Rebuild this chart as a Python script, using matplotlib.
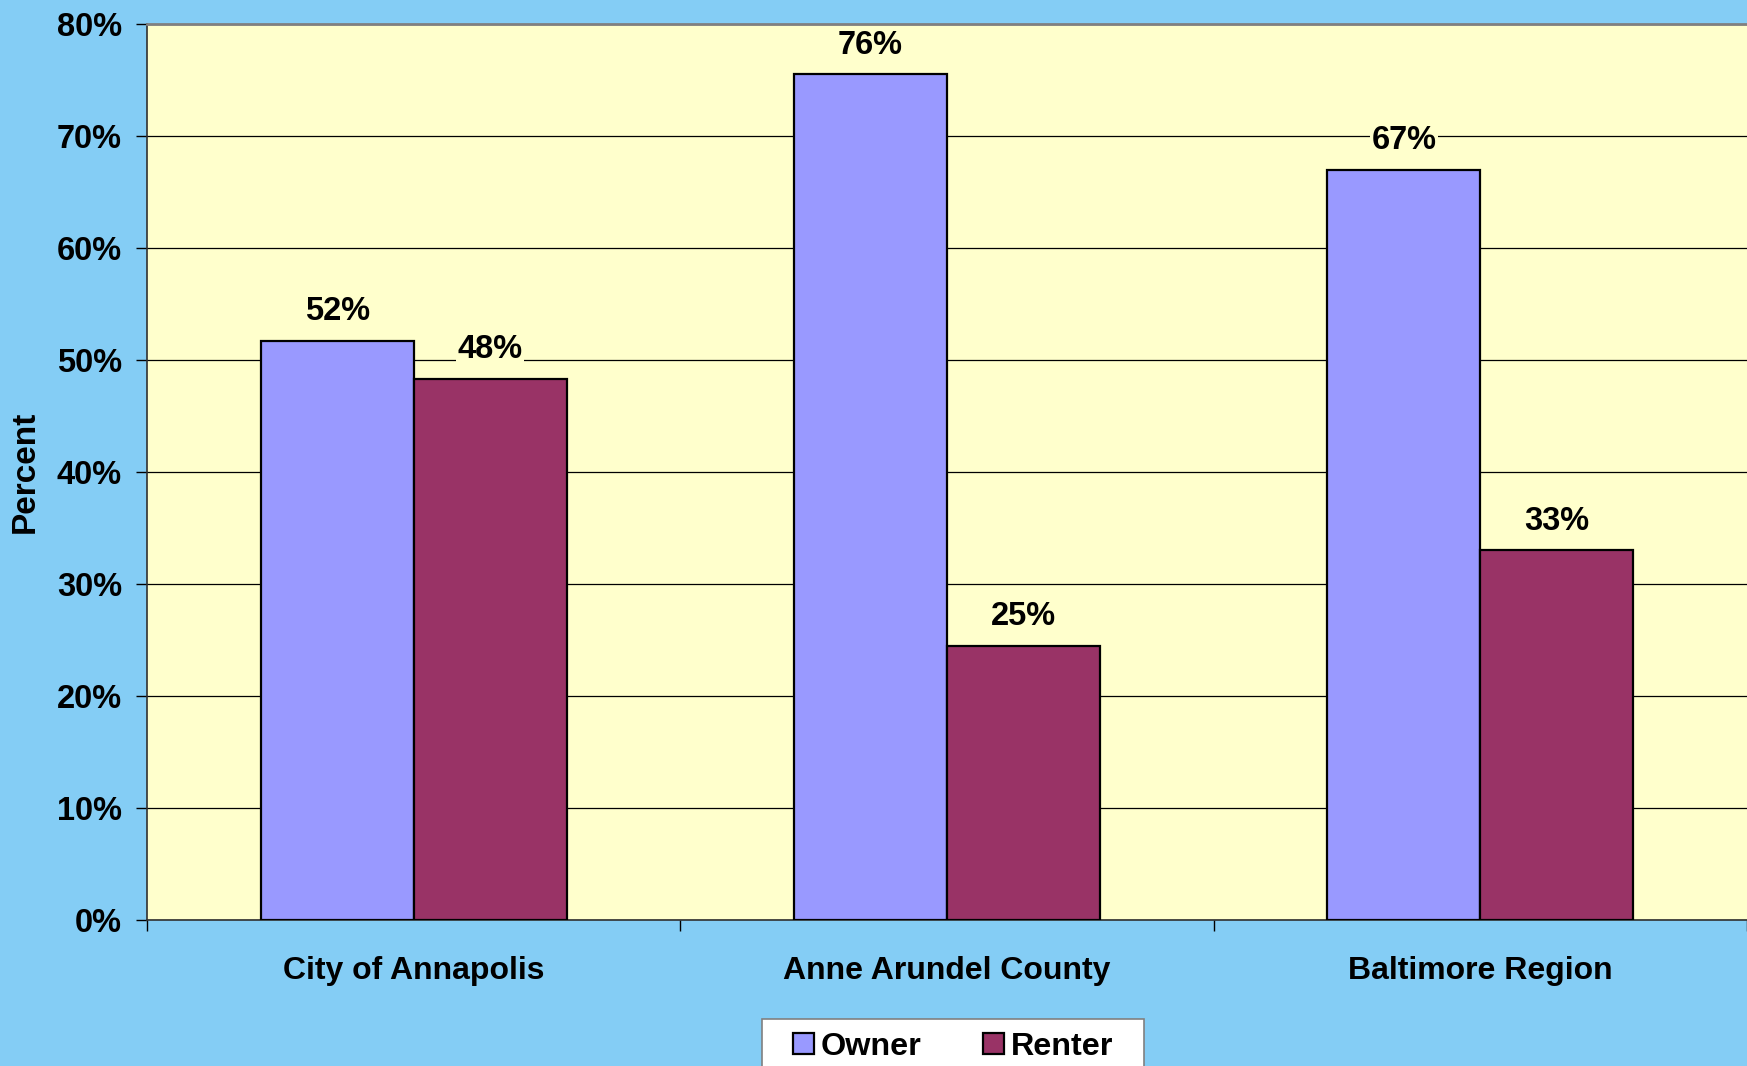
import matplotlib.pyplot as plt
from matplotlib.patches import Rectangle
import numpy as np

plt.rcParams['font.family'] = ['Liberation Sans', 'DejaVu Sans']
plt.rcParams['font.weight'] = 'bold'

categories = ['City of Annapolis', 'Anne Arundel County', 'Baltimore Region']
owner = [51.7, 75.5, 67.0]
renter = [48.3, 24.5, 33.0]
owner_labels = ['52%', '76%', '67%']
renter_labels = ['48%', '25%', '33%']
y_ticks = [0, 10, 20, 30, 40, 50, 60, 70, 80]

bg = '#84CDF5'
plot_bg = '#FFFFCC'
owner_color = '#9999FF'
renter_color = '#993366'

fig = plt.figure(figsize=(17.47, 10.66), dpi=100, facecolor=bg)
ax = fig.add_axes([147 / 1747, 1 - 920 / 1066, 1 - 147 / 1747, (920 - 24) / 1066])
ax.set_facecolor(plot_bg)

x = np.arange(len(categories))
w = 0.2866
b1 = ax.bar(x - w / 2, owner, w, color=owner_color, edgecolor='black', linewidth=1.6, label='Owner', zorder=3)
b2 = ax.bar(x + w / 2, renter, w, color=renter_color, edgecolor='black', linewidth=1.6, label='Renter', zorder=3)

for bars, labels in [(b1, owner_labels), (b2, renter_labels)]:
    for rect, lab in zip(bars, labels):
        ax.annotate(lab, (rect.get_x() + rect.get_width() / 2, rect.get_height()),
                    xytext=(0, 10), textcoords='offset points', ha='center', va='bottom',
                    fontsize=23.5, fontweight='bold', zorder=4, annotation_clip=False,
                    bbox=dict(boxstyle='square,pad=0.05', facecolor=plot_bg, edgecolor='none'))

ax.set_xlim(-0.5, 2.5)
ax.set_ylim(0, 80)
ax.set_yticks(y_ticks)
ax.set_yticklabels([f'{t}%' for t in y_ticks], fontsize=23.5, fontweight='bold')
ax.yaxis.grid(True, color='black', linewidth=0.9, zorder=0)
ax.set_axisbelow(True)
ax.tick_params(axis='y', length=8, width=1, pad=10, colors='black')

ax.set_xticks([-0.5, 0.5, 1.5, 2.5])
ax.set_xticklabels([])
ax.set_xticks(x, minor=True)
ax.set_xticklabels(categories, minor=True, fontsize=23, fontweight='bold')
ax.tick_params(axis='x', which='major', length=8, width=1, direction='out')
ax.tick_params(axis='x', which='minor', length=0, pad=26)

ax.spines['top'].set_color('#808080')
ax.spines['top'].set_linewidth(2)
ax.spines['left'].set_color('#303030')
ax.spines['left'].set_linewidth(1.2)
ax.spines['bottom'].set_color('#303030')
ax.spines['bottom'].set_linewidth(1.2)
ax.spines['right'].set_visible(False)

fig.text(25 / 1747, 1 - 472 / 1066, 'Percent', rotation=90, ha='center', va='center',
         fontsize=24, fontweight='bold')

leg = fig.legend(handles=[b1, b2], loc='center', bbox_to_anchor=(953 / 1747, 1 - 1047 / 1066),
                 ncol=2, fontsize=23.3, frameon=False,
                 handlelength=0.65, handleheight=0.65,
                 handletextpad=0.2, columnspacing=1.9, borderpad=0.2, borderaxespad=0)
for t in leg.get_texts():
    t.set_fontweight('bold')

# legend box: wider than matplotlib's default frame, runs off the bottom edge
fig.canvas.draw()
bb = leg.get_window_extent()
W, H = fig.bbox.width, fig.bbox.height
x0 = bb.x0 - 25
x1 = bb.x1 + 25
top = (bb.y0 + bb.y1) / 2 + 28
fig.patches.append(Rectangle((x0 / W, -0.02), (x1 - x0) / W, top / H + 0.02,
                             transform=fig.transFigure, facecolor='white',
                             edgecolor='#808080', linewidth=1.2, zorder=0.5))

fig.savefig('out.png', dpi=100, facecolor=bg)
